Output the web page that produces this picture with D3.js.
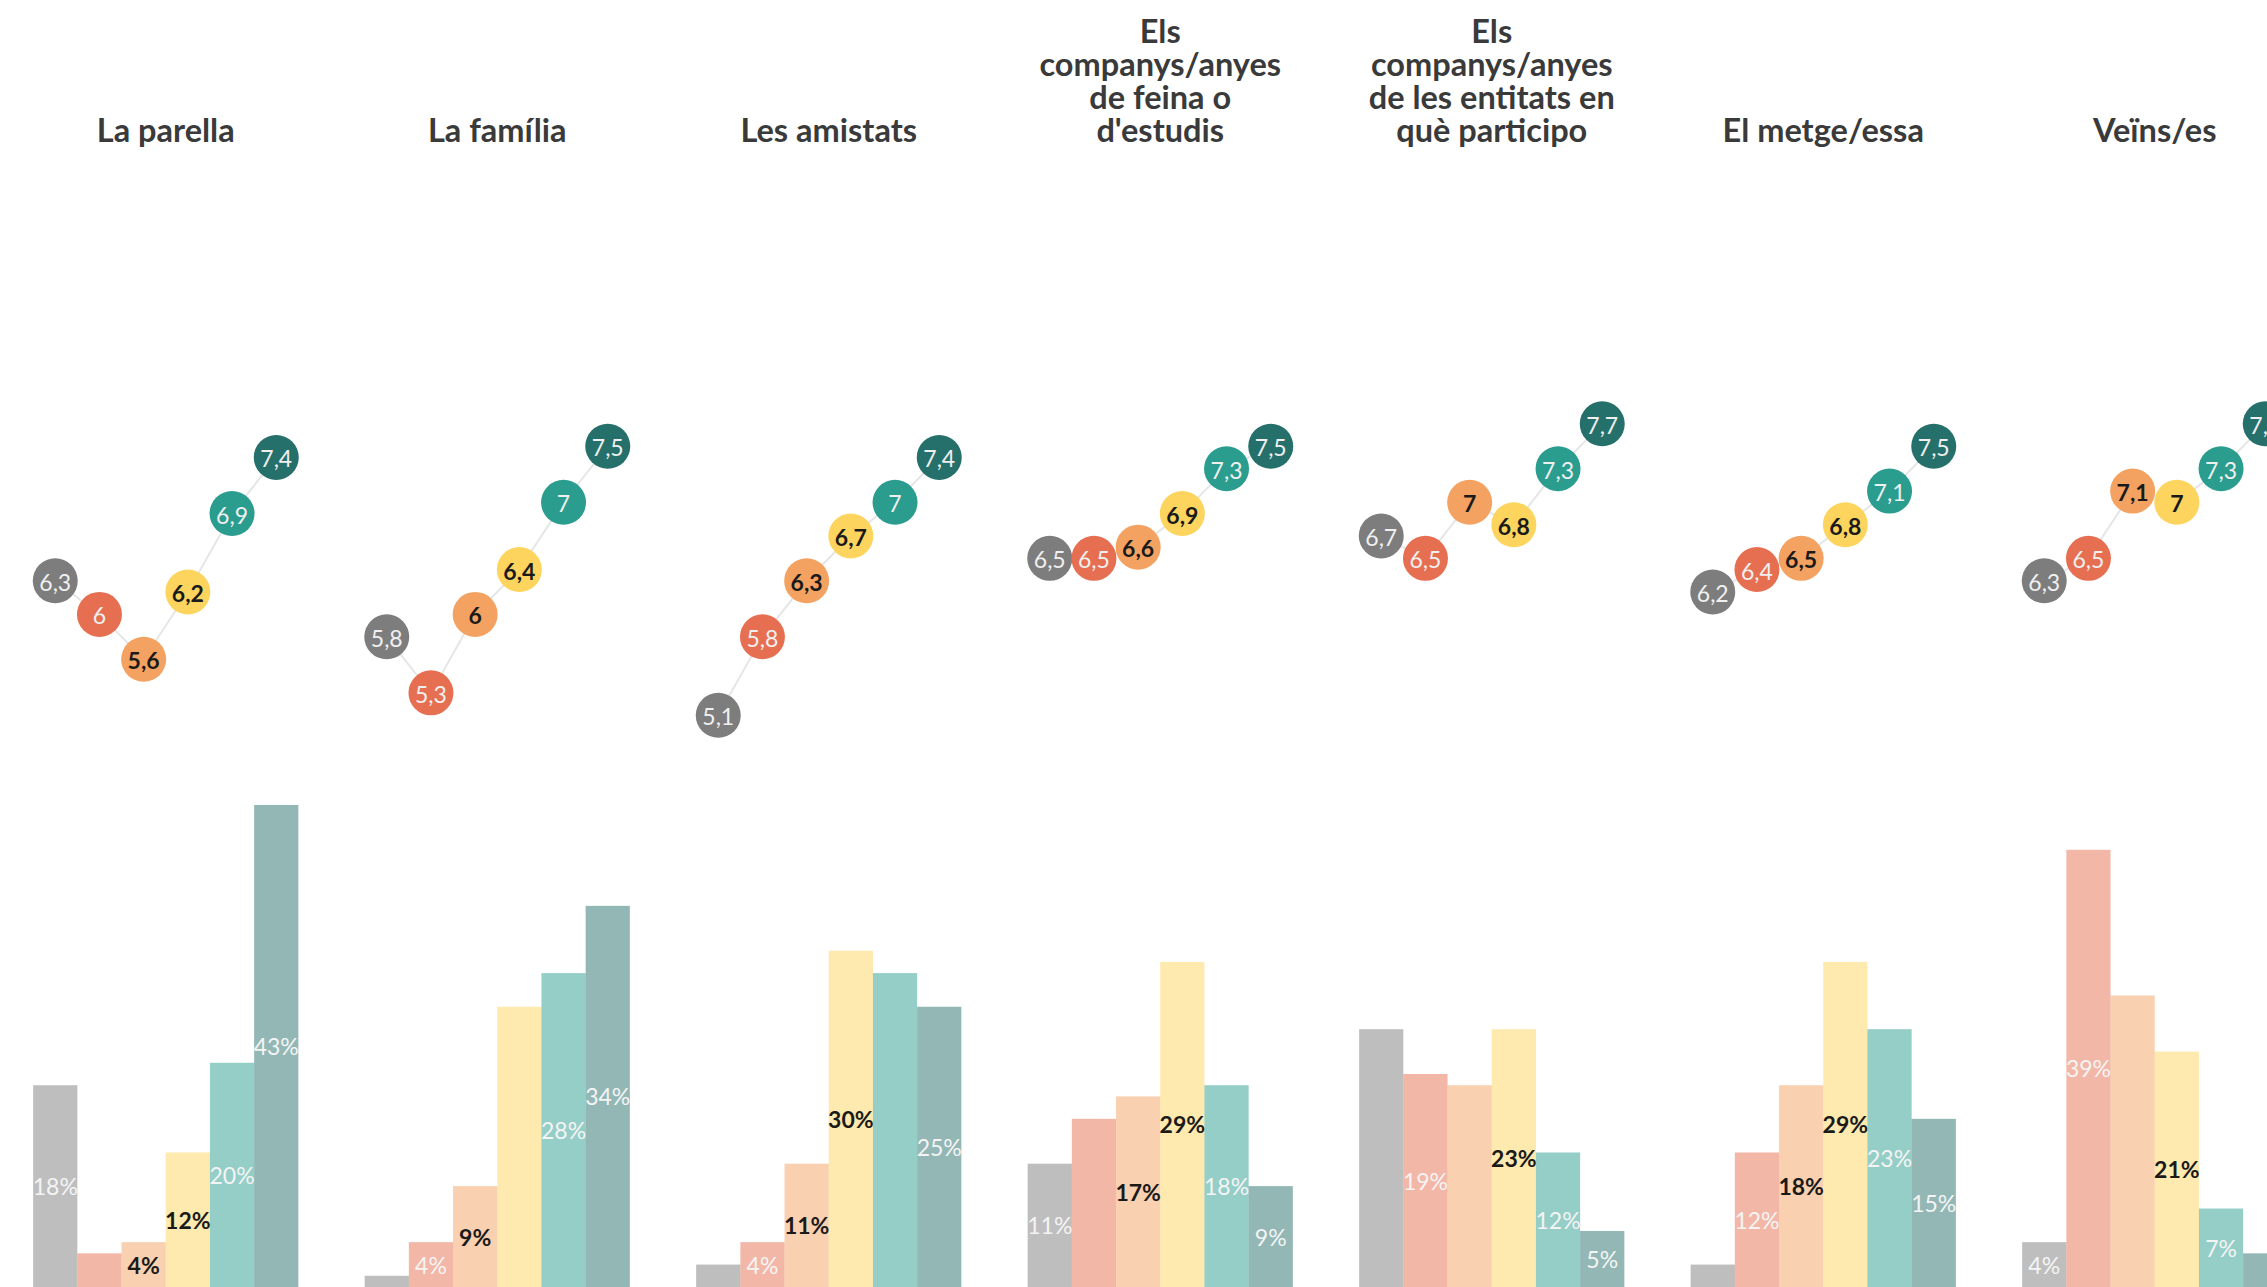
<!DOCTYPE html>
<html>
<head>
<meta charset="utf-8">
<script src="https://cdn.jsdelivr.net/npm/d3@7"></script>
<style>
  html, body { margin: 0; padding: 0; background: #ffffff; overflow: hidden; }
  svg { display: block; font-family: Lato, "Noto Sans", sans-serif; }
</style>
</head>
<body>
<svg id="chart" width="2267" height="1287"></svg>
<script>
// ---------- DATA ----------
const categories = [
  "La parella",
  "La família",
  "Les amistats",
  "Els companys/anyes de feina o d'estudis",
  "Els companys/anyes de les entitats en què participo",
  "El metge/essa",
  "Veïns/es"
];
const levels = ["Nivell 1", "Nivell 2", "Nivell 3", "Nivell 4", "Nivell 5", "Nivell 6"];
const levelColors = ["#7d7d7d", "#e76f51", "#f4a261", "#fdd45d", "#2a9d8f", "#26706b"];

// mean score (0-10) per category, one value per level
const scores = [
  [6.3, 6.0, 5.6, 6.2, 6.9, 7.4],
  [5.8, 5.3, 6.0, 6.4, 7.0, 7.5],
  [5.1, 5.8, 6.3, 6.7, 7.0, 7.4],
  [6.5, 6.5, 6.6, 6.9, 7.3, 7.5],
  [6.7, 6.5, 7.0, 6.8, 7.3, 7.7],
  [6.2, 6.4, 6.5, 6.8, 7.1, 7.5],
  [6.3, 6.5, 7.1, 7.0, 7.3, 7.7]
];
// share (%) per category, one value per level
const shares = [
  [18, 3, 4, 12, 20, 43],
  [1, 4, 9, 25, 28, 34],
  [2, 4, 11, 30, 28, 25],
  [11, 15, 17, 29, 18, 9],
  [23, 19, 18, 23, 12, 5],
  [2, 12, 18, 29, 23, 15],
  [4, 39, 26, 21, 7, 3]
];
// which share labels are printed
const shareLabelShown = [
  [1, 0, 1, 1, 1, 1],
  [0, 1, 1, 0, 1, 1],
  [0, 1, 1, 1, 0, 1],
  [1, 0, 1, 1, 1, 1],
  [0, 1, 0, 1, 1, 1],
  [0, 1, 1, 1, 1, 1],
  [1, 1, 0, 1, 1, 0]
];
const darkTextLevels = ["Nivell 3", "Nivell 4"];

// ---------- LAYOUT ----------
const svg = d3.select("#chart");
const step = 331.5;
const baseY = 1287, topY = 166;

const x = d3.scaleBand()
  .domain(categories)
  .range([0, step * categories.length])
  .paddingInner(0.2)
  .paddingOuter(0.1);

const xi = d3.scaleBand()
  .domain(levels)
  .range([0, x.bandwidth()])
  .padding(0);

const yBar = d3.scaleLinear().domain([0, 100]).range([baseY, topY]);
const yDot = d3.scaleLinear().domain([0, 10]).range([baseY, topY]);
const color = d3.scaleOrdinal().domain(levels).range(levelColors);

const locale = d3.formatLocale({decimal: ",", thousands: ".", grouping: [3], currency: ["", "€"]});
const fmtScore = locale.format(".1~f");
const fmtPct = d => d3.format(".0f")(d) + "%";

const groups = svg.selectAll("g.cat")
  .data(categories)
  .join("g")
  .attr("class", "cat")
  .attr("transform", d => `translate(${x(d)},0)`);

groups.each(function(cat, ci) {
  const g = d3.select(this);
  const rows = levels.map((lv, li) => ({lv, li, v: shares[ci][li], show: shareLabelShown[ci][li]}));

  // bars
  g.selectAll("rect.bar")
    .data(rows)
    .join("rect")
    .attr("class", "bar")
    .attr("x", d => xi(d.lv))
    .attr("width", xi.bandwidth())
    .attr("y", d => yBar(d.v))
    .attr("height", d => yBar(0) - yBar(d.v))
    .attr("fill", d => color(d.lv))
    .attr("fill-opacity", 0.5);

  g.selectAll("text.pct")
    .data(rows.filter(d => d.show))
    .join("text")
    .attr("class", "pct")
    .attr("x", d => xi(d.lv) + xi.bandwidth() / 2)
    .attr("y", d => (yBar(d.v) + yBar(0)) / 2)
    .attr("text-anchor", "middle")
    .attr("dominant-baseline", "central")
    .attr("font-size", 23)
    .attr("font-weight", d => darkTextLevels.includes(d.lv) ? 700 : 400)
    .attr("fill", d => darkTextLevels.includes(d.lv) ? "#1a1a1a" : "#f4f4f4")
    .text(d => fmtPct(d.v));

  // dots
  const pts = levels.map((lv, li) => ({lv, li, v: scores[ci][li]}));
  const line = d3.line()
    .x(d => xi(d.lv) + xi.bandwidth() / 2)
    .y(d => yDot(d.v));
  g.append("path")
    .attr("d", line(pts))
    .attr("fill", "none")
    .attr("stroke", "#e6e6e6")
    .attr("stroke-width", 2);

  g.selectAll("circle.dot")
    .data(pts)
    .join("circle")
    .attr("class", "dot")
    .attr("cx", d => xi(d.lv) + xi.bandwidth() / 2)
    .attr("cy", d => yDot(d.v))
    .attr("r", 22.5)
    .attr("fill", d => color(d.lv));

  g.selectAll("text.score")
    .data(pts)
    .join("text")
    .attr("class", "score")
    .attr("x", d => xi(d.lv) + xi.bandwidth() / 2)
    .attr("y", d => yDot(d.v) + 1)
    .attr("text-anchor", "middle")
    .attr("dominant-baseline", "central")
    .attr("font-size", 23)
    .attr("font-weight", d => darkTextLevels.includes(d.lv) ? 700 : 400)
    .attr("fill", d => darkTextLevels.includes(d.lv) ? "#1a1a1a" : "#f0f0f0")
    .text(d => fmtScore(d.v));

  // title (wrapped, bottom aligned)
  const title = g.append("text")
    .attr("class", "title")
    .attr("text-anchor", "middle")
    .attr("font-size", 32.5)
    .attr("font-weight", 700)
    .attr("fill", "#3a3a3a");
  const maxW = x.bandwidth();
  const words = cat.split(" ");
  const lines = [];
  let cur = [];
  const probe = title.append("tspan");
  words.forEach(w => {
    const test = cur.concat([w]).join(" ");
    probe.text(test);
    if (cur.length && probe.node().getComputedTextLength() > maxW) {
      lines.push(cur.join(" "));
      cur = [w];
    } else {
      cur.push(w);
    }
  });
  if (cur.length) lines.push(cur.join(" "));
  probe.remove();
  const lastBase = 141.7, lh = 33;
  lines.forEach((ln, k) => {
    title.append("tspan")
      .attr("x", x.bandwidth() / 2)
      .attr("y", lastBase - (lines.length - 1 - k) * lh)
      .text(ln);
  });
});
</script>
</body>
</html>
